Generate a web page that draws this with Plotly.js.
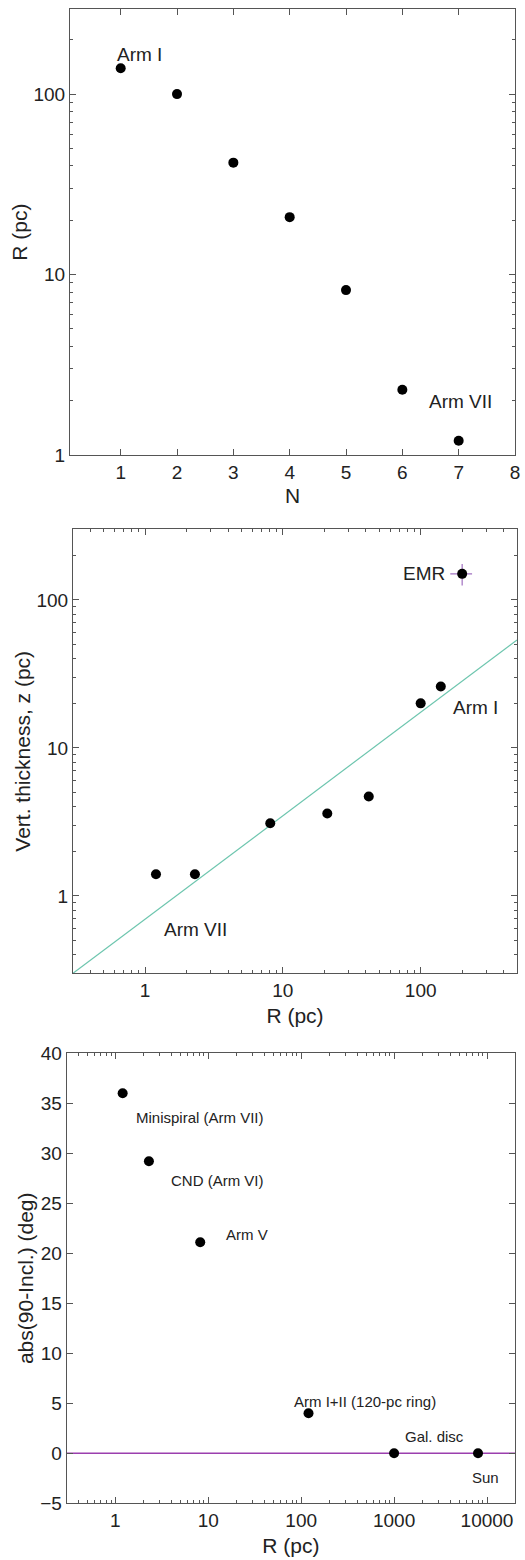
<!DOCTYPE html>
<html>
<head>
<meta charset="utf-8">
<script src="https://cdn.plot.ly/plotly-3.0.1.min.js"></script>
<style>html,body{margin:0;padding:0;background:#fff;}#chart{width:525px;height:1560px;}</style>
</head>
<body>
<div id="chart"></div>
<script>
// Panel 1: arm radius vs arm number
const armN = [1, 2, 3, 4, 5, 6, 7];
const armR = [139, 100, 41.7, 20.8, 8.2, 2.3, 1.2];

// Panel 2: vertical thickness vs radius
const thickR = [1.2, 2.3, 8.1, 21, 42, 100, 140];
const thickZ = [1.4, 1.4, 3.1, 3.6, 4.7, 20, 26];
const emrR = [200];
const emrZ = [150];
const emrRerr = [36];
const emrZerr = [25];
const fitR = [0.3, 500];
const fitZ = [0.3, 53.7];

// Panel 3: inclination vs radius
const inclR = [1.2, 2.3, 8.2, 120, 1000, 8000];
const inclDeg = [36, 29.2, 21.1, 4.0, 0, 0];
const inclNames = ["Minispiral (Arm VII)", "CND (Arm VI)", "Arm V", "Arm I+II (120-pc ring)", "Gal. disc", "Sun"];
const zeroR = [0.3, 20000];
const zeroDeg = [0, 0];

const W = 525, H = 1560;
const FONT = "Liberation Sans, Arial, sans-serif";
const TXT = "#222222";
const FRAME = "#555555";

function dx(a, b) { return [a / W, b / W]; }
function dy(top, bottom) { return [1 - bottom / H, 1 - top / H]; }

function baseAxis(extra) {
  return Object.assign({
    showline: true, mirror: "allticks", linecolor: FRAME, linewidth: 1,
    ticks: "inside", ticklen: 6, tickcolor: FRAME, tickwidth: 1,
    showgrid: false, zeroline: false,
    tickfont: {family: FONT, size: 19, color: TXT},
    exponentformat: "none"
  }, extra);
}
const logMinor = {ticks: "inside", ticklen: 3, tickcolor: FRAME, showgrid: false};

const dot = {color: "#000000", size: 10};

const traces = [
  {x: armN, y: armR, type: "scatter", mode: "markers", marker: dot, xaxis: "x", yaxis: "y", showlegend: false},
  {x: fitR, y: fitZ, type: "scatter", mode: "lines", line: {color: "#6cc5ae", width: 1.2}, xaxis: "x2", yaxis: "y2", showlegend: false},
  {x: thickR, y: thickZ, type: "scatter", mode: "markers", marker: dot, xaxis: "x2", yaxis: "y2", showlegend: false},
  {x: emrR, y: emrZ, type: "scatter", mode: "markers", marker: dot, xaxis: "x2", yaxis: "y2", showlegend: false,
   error_x: {type: "data", array: emrRerr, color: "#a070c0", thickness: 1.2, width: 0},
   error_y: {type: "data", array: emrZerr, color: "#a070c0", thickness: 1.2, width: 0}},
  {x: zeroR, y: zeroDeg, type: "scatter", mode: "lines", line: {color: "#9b3fae", width: 1.4}, xaxis: "x3", yaxis: "y3", showlegend: false},
  {x: inclR, y: inclDeg, text: inclNames, type: "scatter", mode: "markers", marker: dot, xaxis: "x3", yaxis: "y3", showlegend: false}
];

function ann(xref, yref, x, y, text, size, xanchor) {
  return {xref: xref, yref: yref, x: x, y: y, text: text, showarrow: false,
          xanchor: xanchor || "left", yanchor: "middle",
          font: {family: FONT, size: size, color: TXT}};
}

const annotations = [
  ann("x", "y", 0.9, 2.22, "Arm I", 19),
  ann("x", "y", 6.44, 0.294, "Arm VII", 19),
  ann("x2", "y2", 2.19, 2.176, "EMR", 19, "right"),
  ann("x2", "y2", 2.218, 1.27, "Arm I", 19),
  ann("x2", "y2", 0.121, -0.23, "Arm VII", 19),
  ann("x3", "y3", 0.204, 33.6, inclNames[0], 15),
  ann("x3", "y3", 0.583, 27.33, inclNames[1], 15),
  ann("x3", "y3", 1.174, 21.93, inclNames[2], 15),
  ann("x3", "y3", 1.898, 5.23, inclNames[3], 15),
  ann("x3", "y3", 3.097, 1.66, inclNames[4], 15),
  ann("x3", "y3", 3.821, -2.44, inclNames[5], 15)
];

const titleFont = {family: FONT, size: 21, color: TXT};

const layout = {
  width: W, height: H,
  margin: {l: 0, r: 0, t: 0, b: 0},
  paper_bgcolor: "#ffffff", plot_bgcolor: "#ffffff",
  showlegend: false,
  xaxis: baseAxis({domain: dx(70, 515), anchor: "y", range: [0.1, 8], tickmode: "linear", tick0: 0, dtick: 1,
    title: {text: "N", font: titleFont, standoff: 6}}),
  yaxis: baseAxis({domain: dy(9.3, 455), anchor: "x", type: "log", range: [0, 2.47], dtick: 1, minor: logMinor,
    title: {text: "R (pc)", font: titleFont, standoff: 0}}),
  xaxis2: baseAxis({domain: dx(73, 517), anchor: "y2", type: "log", range: [Math.log10(0.3), Math.log10(500)], dtick: 1, minor: logMinor,
    title: {text: "R (pc)", font: titleFont, standoff: 8}}),
  yaxis2: baseAxis({domain: dy(529.3, 973.3), anchor: "x2", type: "log", range: [Math.log10(0.3), Math.log10(300)], dtick: 1, minor: logMinor,
    title: {text: "Vert. thickness, z (pc)", font: titleFont, standoff: 0}}),
  xaxis3: baseAxis({domain: dx(66.7, 515), anchor: "y3", type: "log", range: [Math.log10(0.3), Math.log10(20000)], dtick: 1, minor: logMinor,
    tickformat: "d", title: {text: "R (pc)", font: titleFont, standoff: 8}}),
  yaxis3: baseAxis({domain: dy(1053.3, 1503.3), anchor: "x3", range: [-5, 40], tickmode: "linear", tick0: 0, dtick: 5,
    title: {text: "abs(90-Incl.) (deg)", font: titleFont, standoff: 0}}),
  annotations: annotations
};

Plotly.newPlot("chart", traces, layout, {staticPlot: true, displayModeBar: false});
</script>
</body>
</html>
